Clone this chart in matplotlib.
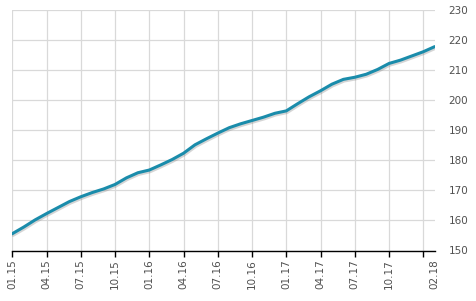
import matplotlib
matplotlib.use("Agg")
import matplotlib.pyplot as plt
import matplotlib.patheffects as pe

months = list(range(38))
values = [155.6, 157.8, 160.2, 162.3, 164.3, 166.3, 167.9, 169.3, 170.5, 172.0,
          174.2, 175.9, 176.8, 178.5, 180.3, 182.4, 185.2, 187.2, 189.1, 190.9,
          192.2, 193.3, 194.4, 195.7, 196.5, 198.9, 201.2, 203.2, 205.4, 207.0,
          207.7, 208.7, 210.3, 212.3, 213.4, 214.8, 216.2, 217.9]
tick_months = list(range(0, 37, 3))
tick_labels = ["01.15", "04.15", "07.15", "10.15", "01.16", "04.16", "07.16",
               "10.16", "01.17", "04.17", "07.17", "10.17", ""]
end_label = "02.18"
y_ticks = [150, 160, 170, 180, 190, 200, 210, 220, 230]

W, H = 477, 301
fig = plt.figure(figsize=(W / 100, H / 100), dpi=100)
ax = fig.add_axes([12.3 / W, (H - 250.5) / H, (434.7 - 12.3) / W, (250.5 - 10.3) / H])

line_color = "#1a8cab"
ax.plot(months, values, color=line_color, lw=2.2, solid_capstyle="round",
        path_effects=[pe.SimpleLineShadow(offset=(0.6, -1.2), shadow_color="#888888", alpha=0.35),
                      pe.Normal()], zorder=3)

ax.set_xlim(0, 37)
ax.set_ylim(150, 230)
ax.set_yticks(y_ticks)
ax.yaxis.tick_right()
ax.tick_params(axis="y", length=0, pad=10, labelsize=7.5, labelcolor="#505050")
ax.set_xticks(tick_months)
ax.set_xticklabels(tick_labels, rotation=90)
ax.set_xticks([37], minor=True)
ax.set_xticklabels([end_label], minor=True, rotation=90)
ax.tick_params(axis="x", which="major", length=4, width=1, color="black", pad=2,
               labelsize=7.5, labelcolor="#505050")
ax.tick_params(axis="x", which="minor", length=0, pad=6,
               labelsize=7.5, labelcolor="#505050")

ax.grid(True, which="major", color="#d9d9d9", lw=0.9)
ax.set_axisbelow(True)
for s in ["top", "right", "left"]:
    ax.spines[s].set_visible(False)
ax.spines["bottom"].set_color("black")
ax.spines["bottom"].set_linewidth(1.0)
ax.spines["bottom"].set_zorder(4)

fig.savefig("out.png", dpi=100)
